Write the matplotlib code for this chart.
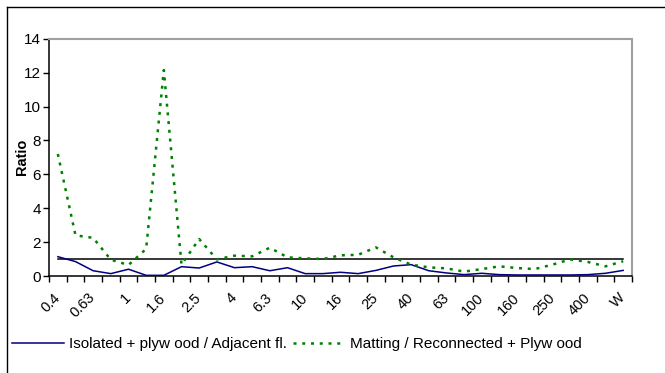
import matplotlib
matplotlib.use("Agg")
import matplotlib.pyplot as plt
import matplotlib.transforms as mtransforms
from matplotlib.lines import Line2D

plt.rcParams['font.family'] = ['Liberation Sans', 'DejaVu Sans']

# 1/3 octave band centre frequencies (Hz) plus the weighted value
bands = ['0.4', '0.5', '0.63', '0.8', '1', '1.25', '1.6', '2', '2.5', '3.15',
         '4', '5', '6.3', '8', '10', '12.5', '16', '20', '25', '31.5',
         '40', '50', '63', '80', '100', '125', '160', '200', '250', '315',
         '400', '500', 'W']

isolated = [1.14, 0.85, 0.31, 0.14, 0.40, 0.04, 0.04, 0.55, 0.47, 0.83,
            0.49, 0.55, 0.31, 0.49, 0.14, 0.14, 0.22, 0.14, 0.33, 0.59,
            0.67, 0.31, 0.18, 0.08, 0.16, 0.08, 0.06, 0.06, 0.06, 0.06,
            0.08, 0.16, 0.33]

matting = [7.2, 2.4, 2.25, 0.96, 0.65, 1.6, 12.15, 0.67, 2.18, 0.98,
           1.2, 1.16, 1.67, 1.1, 1.04, 1.0, 1.22, 1.25, 1.69, 1.1,
           0.67, 0.51, 0.45, 0.26, 0.41, 0.57, 0.47, 0.41, 0.67, 0.98,
           0.83, 0.57, 0.87]

unity = [1.0] * len(bands)

BLUE = '#000080'
GREEN = '#008000'
GRAY = '#a0a0a0'
FS = 10.5

fig = plt.figure(figsize=(6.65, 3.73), dpi=100)
ax = fig.add_axes([49 / 665, 1 - 276 / 373, 583 / 665, 237.3 / 373])

x = list(range(len(bands)))
ax.plot(x, unity, color='black', linewidth=1.1, zorder=2)
ax.plot(x, isolated, color=BLUE, linewidth=1.1, zorder=3)
ax.plot(x, matting, color=GREEN, linewidth=1.8, linestyle=(0, (1.2, 2.3)),
        dash_capstyle='butt', zorder=3)

ax.set_xlim(-0.5, len(bands) - 0.5)
ax.set_ylim(0, 14)
ax.set_yticks(range(0, 15, 2))

# ticks on the category boundaries, labels on every second band
ax.set_xticks([i - 0.5 for i in range(len(bands) + 1)])
ax.set_xticklabels([])
ax.set_xticks(x[::2], minor=True)
ax.set_xticklabels(bands[::2], minor=True, rotation=45, ha='right',
                   va='center', rotation_mode='anchor', fontsize=FS)
shift = mtransforms.ScaledTranslation(-6 / 100, -4 / 100, fig.dpi_scale_trans)
for lab in ax.get_xticklabels(minor=True):
    lab.set_transform(lab.get_transform() + shift)
ax.tick_params(axis='x', which='minor', length=0, pad=14)
ax.tick_params(axis='x', which='major', direction='out', length=4,
               width=1, color='black')
ax.tick_params(axis='y', direction='out', length=4, width=1,
               labelsize=11, pad=2)

for side in ('top', 'right'):
    ax.spines[side].set_color(GRAY)
    ax.spines[side].set_linewidth(1.5)
for side in ('left', 'bottom'):
    ax.spines[side].set_color('black')
    ax.spines[side].set_linewidth(1.1)

fig.text(22 / 665, 1 - 157 / 373, 'Ratio', rotation=90, fontweight='bold',
         fontsize=FS, ha='center', va='center')

# legend below the axes
handles = [Line2D([], [], color=BLUE, linewidth=1.1),
           Line2D([], [], color=GREEN, linewidth=1.8,
                  linestyle=(0, (1.2, 2.3)), dash_capstyle='butt')]
labels = ['Isolated + plyw ood / Adjacent fl.',
          'Matting / Reconnected + Plyw ood']
fig.legend(handles, labels, loc='center left',
           bbox_to_anchor=(12 / 665, 1 - 344 / 373), ncol=2, frameon=False,
           fontsize=11, handlelength=3.4, handletextpad=0.35,
           columnspacing=0.35, borderaxespad=0, borderpad=0)

# chart area border
fig.add_artist(Line2D([7 / 665, 1], [1 - 7 / 373, 1 - 7 / 373],
                      transform=fig.transFigure, color='black', linewidth=1))
fig.add_artist(Line2D([7 / 665, 7 / 665], [0, 1 - 7 / 373],
                      transform=fig.transFigure, color='black', linewidth=1))

fig.savefig('out.png', dpi=100)
